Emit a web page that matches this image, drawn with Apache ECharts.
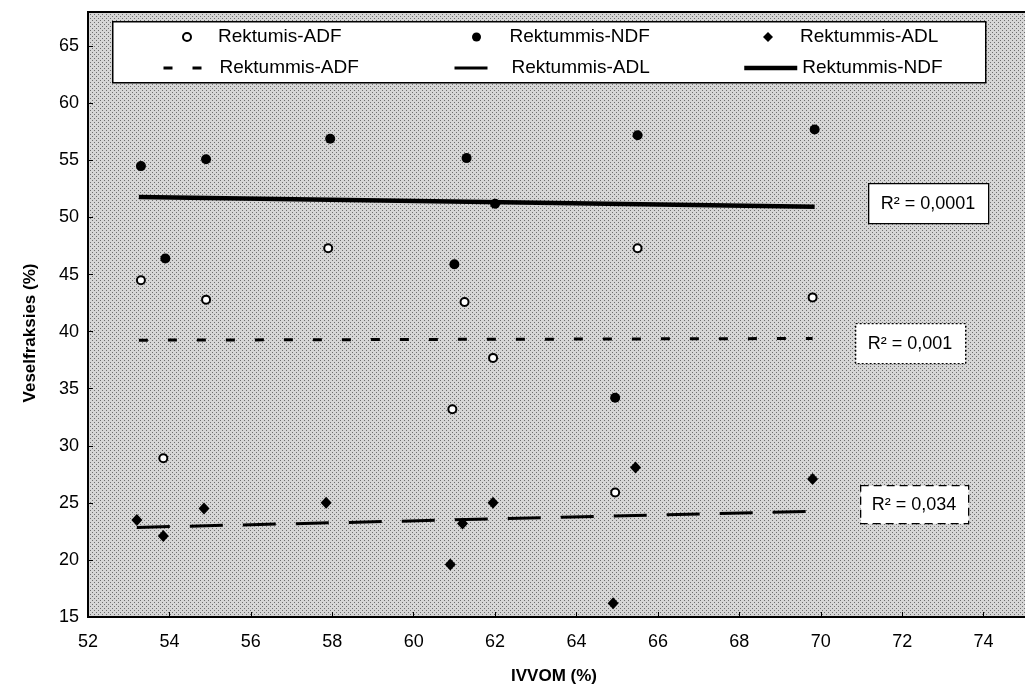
<!DOCTYPE html>
<html><head><meta charset="utf-8">
<script src="https://cdn.jsdelivr.net/npm/echarts@6/dist/echarts.min.js"></script>
<style>html,body{margin:0;padding:0;background:#fff}#c{width:1025px;height:692px}</style>
</head><body><div id="c"></div>
<script>
// Rektumis-ADF (open circles)
const adfX = [53.3, 53.85, 54.9, 57.9, 60.95, 61.25, 61.95, 64.95, 65.5, 69.8];
const adfY = [44.5, 28.9, 42.8, 47.3, 33.2, 42.6, 37.7, 25.9, 47.3, 43.0];
// Rektummis-NDF (filled circles)
const ndfX = [53.3, 53.9, 54.9, 57.95, 61.0, 61.3, 62.0, 64.95, 65.5, 69.85];
const ndfY = [54.5, 46.4, 55.1, 56.9, 45.9, 55.2, 51.2, 34.2, 57.2, 57.7];
// Rektummis-ADL (filled diamonds)
const adlX = [53.2, 53.85, 54.85, 57.85, 60.9, 61.2, 61.95, 64.9, 65.45, 69.8];
const adlY = [23.5, 22.1, 24.5, 25.0, 19.6, 23.2, 25.0, 16.2, 28.1, 27.1];
// Linear trend lines (start / end)
const trendAdfX = [53.25, 69.8];
const trendAdfY = [39.25, 39.4];
const trendAdlX = [53.2, 69.8];
const trendAdlY = [22.85, 24.25];
const trendNdfX = [53.25, 69.85];
const trendNdfY = [51.8, 50.95];
// R² labels
const r2Labels = ['R² = 0,0001', 'R² = 0,001', 'R² = 0,034'];
const xTitle = 'IVVOM (%)';
const yTitle = 'Veselfraksies (%)';

function pairs(xs, ys) { return xs.map((x, i) => [x, ys[i]]); }

const FONT = '"Liberation Sans", Arial, sans-serif';

// stipple pattern for plot background
const pc = document.createElement('canvas');
pc.width = 4; pc.height = 4;
const g = pc.getContext('2d');
g.fillStyle = '#d6d6d6'; g.fillRect(0, 0, 4, 4);
g.fillStyle = '#6e6e6e'; g.fillRect(0, 0, 1, 1); g.fillRect(2, 2, 1, 1);

const chart = echarts.init(document.getElementById('c'), null, {renderer: 'canvas'});

const legendBase = {
  padding: 0, selectedMode: false, z: 6, symbolKeepAspect: true,
  textStyle: {fontFamily: FONT, fontSize: 19, color: '#000', lineHeight: 20}
};
function lg(o) { return Object.assign({}, legendBase, o); }

chart.setOption({
  animation: false,
  backgroundColor: '#fff',
  grid: {
    left: 88, right: -40, top: 12, bottom: 75,
    outerBoundsMode: 'none', containLabel: false,
    show: true,
    backgroundColor: {image: pc, repeat: 'repeat'},
    borderColor: '#000', borderWidth: 2
  },
  xAxis: {
    type: 'value', min: 52, max: 76, interval: 2,
    axisLine: {show: true, lineStyle: {color: '#000', width: 2}},
    axisTick: {show: true, inside: true, length: 5, lineStyle: {color: '#000'}},
    splitLine: {show: false},
    axisLabel: {color: '#000', fontFamily: FONT, fontSize: 18, margin: 16}
  },
  yAxis: {
    type: 'value', min: 15, max: 68, interval: 5,
    axisLine: {show: true, lineStyle: {color: '#000', width: 2}},
    axisTick: {show: true, inside: true, length: 5, lineStyle: {color: '#000'}},
    splitLine: {show: false},
    axisLabel: {color: '#000', fontFamily: FONT, fontSize: 18, margin: 9, showMaxLabel: false}
  },
  legend: [
    lg({data: ['Rektumis-ADF'], left: 182, top: 27, itemWidth: 52, itemHeight: 8}),
    lg({data: ['Rektummis-NDF'], left: 472, top: 27, itemWidth: 56, itemHeight: 9}),
    lg({data: ['Rektummis-ADL'], left: 763, top: 27, itemWidth: 10, itemHeight: 10,
        textStyle: {fontFamily: FONT, fontSize: 19, color: '#000', lineHeight: 20, padding: [0, 0, 0, 22]}}),
    lg({data: ['Rektummis-ADF'], left: 162, top: 58, itemWidth: 51, itemHeight: 8,
        itemStyle: {opacity: 0}, lineStyle: {width: 3}}),
    lg({data: ['Rektummis-ADL trend'], left: 453, top: 58, itemWidth: 52, itemHeight: 8,
        itemStyle: {opacity: 0}, lineStyle: {width: 3}, formatter: () => 'Rektummis-ADL'}),
    lg({data: ['Rektummis-NDF trend'], left: 742, top: 58, itemWidth: 53, itemHeight: 8,
        itemStyle: {opacity: 0}, lineStyle: {width: 4.5}, formatter: () => 'Rektummis-NDF'})
  ],
  graphic: [
    {type: 'rect', left: 112, top: 21, z: 5,
     shape: {width: 873, height: 61},
     style: {fill: '#fff', stroke: '#000', lineWidth: 1.5}},
    {type: 'rect', left: 868, top: 183, z: 5, shape: {width: 120, height: 40},
     style: {fill: '#fff', stroke: '#000', lineWidth: 1.3}},
    {type: 'text', x: 928, y: 204, z: 6,
     style: {text: r2Labels[0], font: '18px ' + FONT, fill: '#000', align: 'center', verticalAlign: 'middle'}},
    {type: 'rect', left: 855, top: 323, z: 5, shape: {width: 110, height: 40},
     style: {fill: '#fff', stroke: '#000', lineWidth: 1.3, lineDash: [2, 2]}},
    {type: 'text', x: 910, y: 344, z: 6,
     style: {text: r2Labels[1], font: '18px ' + FONT, fill: '#000', align: 'center', verticalAlign: 'middle'}},
    {type: 'rect', left: 860, top: 485, z: 5, shape: {width: 108, height: 38},
     style: {fill: '#fff', stroke: '#000', lineWidth: 1.3, lineDash: [8, 5]}},
    {type: 'text', x: 914, y: 505, z: 6,
     style: {text: r2Labels[2], font: '18px ' + FONT, fill: '#000', align: 'center', verticalAlign: 'middle'}},
    {type: 'text', x: 554, y: 676, z: 6,
     style: {text: xTitle, font: 'bold 17px ' + FONT, fill: '#000', align: 'center', verticalAlign: 'middle'}},
    {type: 'text', x: 30, y: 333, z: 6, rotation: Math.PI / 2,
     style: {text: yTitle, font: 'bold 17px ' + FONT, fill: '#000', align: 'center', verticalAlign: 'middle'}}
  ],
  series: [
    {name: 'Rektumis-ADF', type: 'scatter', data: pairs(adfX, adfY),
     symbol: 'emptyCircle', symbolSize: 8,
     itemStyle: {color: '#000', borderColor: '#000', borderWidth: 2, opacity: 1}},
    {name: 'Rektummis-NDF', type: 'scatter', data: pairs(ndfX, ndfY),
     symbol: 'circle', symbolSize: 10, itemStyle: {color: '#000', opacity: 1}},
    {name: 'Rektummis-ADL', type: 'scatter', data: pairs(adlX, adlY),
     symbol: 'diamond', symbolSize: [11, 12], symbolKeepAspect: true,
     itemStyle: {color: '#000', opacity: 1}},
    {name: 'Rektummis-ADF', type: 'line', data: pairs(trendAdfX, trendAdfY),
     symbol: 'none', itemStyle: {color: '#000'},
     lineStyle: {color: '#000', width: 3, type: [9, 20]}},
    {name: 'Rektummis-ADL trend', type: 'line', data: pairs(trendAdlX, trendAdlY),
     symbol: 'none', itemStyle: {color: '#000'},
     lineStyle: {color: '#000', width: 3, type: [33, 20]}},
    {name: 'Rektummis-NDF trend', type: 'line', data: pairs(trendNdfX, trendNdfY),
     symbol: 'none', itemStyle: {color: '#000'},
     lineStyle: {color: '#000', width: 4.5}}
  ]
});
</script></body></html>
